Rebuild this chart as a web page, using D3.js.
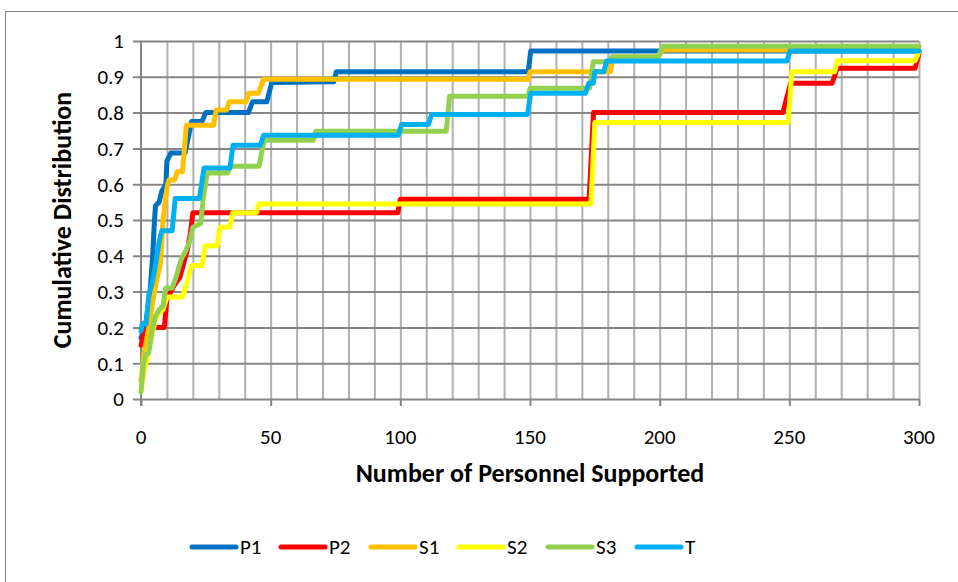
<!DOCTYPE html>
<html>
<head>
<meta charset="utf-8">
<script src="https://cdn.jsdelivr.net/npm/d3@7"></script>
<style>
  body { margin: 0; background: #fff; }
  svg { display: block; }
  text { font-family: Carlito, Calibri, Lato, sans-serif; fill: #000; }
</style>
</head>
<body>
<svg id="chart" width="958" height="582"></svg>
<script>
// series: [personnel supported, cumulative distribution]
const seriesNames = ["P1", "P2", "S1", "S2", "S3", "T"];
const seriesColors = ["#0070C0", "#FF0000", "#FFC000", "#FFFF00", "#92D050", "#00B0F0"];

const p1 = [[0, 0.17], [2, 0.22], [3.5, 0.3], [4.5, 0.4], [5.2, 0.5], [5.6, 0.54], [7, 0.55], [8, 0.58], [9.6, 0.6],
  [10, 0.665], [11.5, 0.687], [17, 0.687], [19.5, 0.775], [23.5, 0.775], [25, 0.8], [41.4, 0.8], [43, 0.83],
  [48.5, 0.83], [50.4, 0.884], [74.3, 0.886], [75.3, 0.914], [149.3, 0.914], [150.3, 0.972], [300, 0.972]];

const p2 = [[0, 0.15], [1, 0.18], [3, 0.2], [9, 0.2], [10, 0.28], [11.5, 0.3], [13, 0.32], [15, 0.34], [16.5, 0.38],
  [18, 0.42], [19, 0.46], [20, 0.52], [99, 0.52], [100, 0.558], [172.8, 0.558], [174.5, 0.8], [247.5, 0.8],
  [250.5, 0.882], [266.5, 0.882], [268.5, 0.924], [298.5, 0.924], [300, 0.965]];

const s1 = [[0, 0.05], [1, 0.12], [3, 0.2], [4.5, 0.27], [6, 0.33], [7.5, 0.38], [8.5, 0.5], [9, 0.53], [10, 0.59],
  [10.8, 0.612], [13, 0.612], [14, 0.635], [16, 0.635], [17.5, 0.765], [28, 0.765], [29, 0.807], [33, 0.807],
  [34, 0.83], [40.5, 0.83], [41.5, 0.854], [45.3, 0.854], [47.2, 0.893], [149.3, 0.893], [150, 0.914],
  [181, 0.914], [182, 0.955], [199.5, 0.955], [201, 0.975], [300, 0.975]];

const s2 = [[0, 0.02], [1, 0.07], [2.5, 0.12], [4, 0.17], [5.5, 0.22], [7, 0.24], [8.5, 0.25], [10, 0.285],
  [16, 0.285], [17.5, 0.32], [19.5, 0.373], [23.5, 0.373], [24.8, 0.428], [29.3, 0.428], [30.5, 0.48],
  [34.3, 0.48], [35.3, 0.52], [44.5, 0.52], [45.5, 0.545], [173.5, 0.545], [175, 0.772], [249.5, 0.772],
  [251, 0.914], [267.5, 0.914], [268.5, 0.945], [298.5, 0.945], [300, 0.97]];

const s3 = [[0, 0.02], [1, 0.1], [1.6, 0.12], [3, 0.13], [4.5, 0.2], [5.5, 0.23], [7, 0.25], [8.5, 0.26],
  [9.5, 0.31], [12, 0.31], [13.5, 0.34], [15.5, 0.39], [17, 0.41], [18.8, 0.44], [20, 0.48], [23, 0.49],
  [24, 0.56], [25.5, 0.631], [33.4, 0.631], [34.5, 0.65], [45.5, 0.65], [47.5, 0.723], [66.5, 0.723],
  [67.5, 0.748], [117.7, 0.748], [119, 0.846], [149.3, 0.846], [150, 0.868], [173, 0.868], [174.4, 0.942],
  [180.5, 0.942], [181.5, 0.955], [199.5, 0.955], [201, 0.985], [300, 0.985]];

const t = [[0, 0.19], [0.5, 0.21], [2, 0.21], [3, 0.29], [4.5, 0.33], [5.5, 0.37], [7, 0.44], [8, 0.47], [12, 0.47],
  [13.2, 0.56], [22.5, 0.56], [24.3, 0.645], [34.3, 0.645], [35.5, 0.709], [46, 0.709], [47.3, 0.737],
  [99.2, 0.737], [100.5, 0.767], [110.8, 0.767], [112.1, 0.795], [149, 0.795], [150.3, 0.854], [171.4, 0.854],
  [172.6, 0.882], [174.4, 0.882], [175, 0.914], [178.5, 0.914], [179.5, 0.944], [249, 0.944], [250.3, 0.972],
  [300, 0.972]];

const xTicks = [0, 50, 100, 150, 200, 250, 300];
const yTicks = [0, 0.1, 0.2, 0.3, 0.4, 0.5, 0.6, 0.7, 0.8, 0.9, 1];

const allSeries = [p1, p2, s1, s2, s3, t];

const svg = d3.select("#chart");

// outer chart border (only top and left edges fall inside the window)
svg.append("rect")
  .attr("x", 5.5).attr("y", 11.5)
  .attr("width", 1000).attr("height", 1000)
  .attr("fill", "none")
  .attr("stroke", "#868686")
  .attr("stroke-width", 1);

const margin = { top: 41, left: 141, right: 919, bottom: 399 };

const x = d3.scaleLinear().domain([0, 300]).range([margin.left, margin.right]);
const y = d3.scaleLinear().domain([0, 1]).range([margin.bottom, margin.top]);

// vertical gridlines every 10
svg.append("g")
  .attr("transform", `translate(0,${margin.bottom})`)
  .call(d3.axisBottom(x).tickValues(d3.range(10, 301, 10)).tickSize(-(margin.bottom - margin.top)).tickFormat(""))
  .call(g => g.select(".domain").remove())
  .selectAll("line")
  .attr("stroke", "#b0b0b0")
  .attr("stroke-width", 2);

// horizontal gridlines, extended left as tick marks
svg.append("g")
  .attr("transform", `translate(${margin.right},0)`)
  .call(d3.axisLeft(y).tickValues(yTicks).tickSize(margin.right - margin.left + 8).tickFormat(""))
  .call(g => g.select(".domain").remove())
  .selectAll("line")
  .attr("stroke", "#868686")
  .attr("stroke-width", 2);

// y axis line
svg.append("line")
  .attr("x1", x(0)).attr("x2", x(0))
  .attr("y1", y(1)).attr("y2", y(0) + 7)
  .attr("stroke", "#868686")
  .attr("stroke-width", 2);

// x axis major ticks
svg.append("g")
  .attr("transform", `translate(0,${margin.bottom})`)
  .call(d3.axisBottom(x).tickValues(xTicks).tickSize(7).tickFormat(""))
  .call(g => g.select(".domain").remove())
  .selectAll("line")
  .attr("stroke", "#868686")
  .attr("stroke-width", 2);

// tick labels
svg.append("g").selectAll("text")
  .data(yTicks)
  .join("text")
  .attr("x", 124)
  .attr("y", d => y(d))
  .attr("dy", "0.35em")
  .attr("text-anchor", "end")
  .style("font-size", "21px")
  .text(d => d);

svg.append("g").selectAll("text")
  .data(xTicks)
  .join("text")
  .attr("x", d => x(d))
  .attr("y", 437)
  .attr("dy", "0.35em")
  .attr("text-anchor", "middle")
  .style("font-size", "21px")
  .text(d => d);

// axis titles
svg.append("text")
  .attr("x", 530)
  .attr("y", 482)
  .attr("text-anchor", "middle")
  .style("font-size", "26px")
  .style("font-weight", "bold")
  .text("Number of Personnel Supported");

svg.append("text")
  .attr("transform", "translate(62,220) rotate(-90)")
  .attr("dy", "0.35em")
  .attr("text-anchor", "middle")
  .style("font-size", "26px")
  .style("font-weight", "bold")
  .text("Cumulative Distribution");

// series lines
const line = d3.line().x(d => x(d[0])).y(d => y(d[1]));

svg.append("g").selectAll("path")
  .data(allSeries)
  .join("path")
  .attr("d", line)
  .attr("fill", "none")
  .attr("stroke", (d, i) => seriesColors[i])
  .attr("stroke-width", 5)
  .attr("stroke-linejoin", "round")
  .attr("stroke-linecap", "round");

// legend
const legendX = [192, 281, 371, 459, 548, 637];
const legend = svg.append("g").selectAll("g")
  .data(seriesNames)
  .join("g")
  .attr("transform", (d, i) => `translate(${legendX[i]},547)`);

legend.append("line")
  .attr("x1", 0).attr("x2", 44)
  .attr("stroke", (d, i) => seriesColors[i])
  .attr("stroke-width", 5)
  .attr("stroke-linecap", "round");

legend.append("text")
  .attr("x", 48)
  .attr("dy", "0.35em")
  .style("font-size", "21px")
  .text(d => d);
</script>
</body>
</html>
